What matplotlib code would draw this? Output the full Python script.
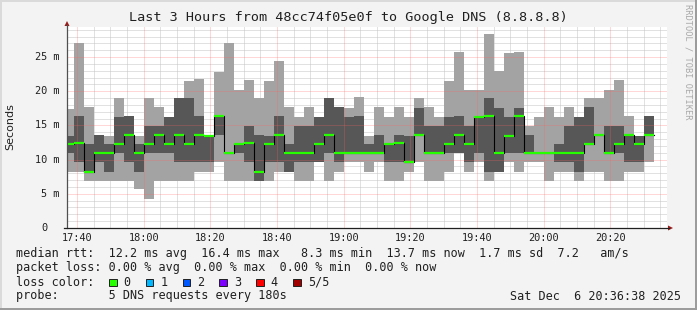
import matplotlib
matplotlib.use("Agg")
import matplotlib.pyplot as plt
import matplotlib.transforms as mtransforms
from matplotlib.patches import Rectangle, Polygon
from matplotlib.lines import Line2D

W, H = 697, 310

# one round of 5 DNS pings every 3 minutes, sorted pings in ms
ping_min = [8.2, 8.2, 6.9, 6.9, 6.9, 6.9, 6.9, 5.7, 4.2, 6.9,
            6.9, 6.9, 6.9, 8.2, 8.2, 9.6, 6.9, 6.9, 6.9, 6.9,
            6.9, 8.2, 8.2, 6.9, 6.9, 9.6, 6.9, 8.2, 9.6, 9.6,
            8.2, 9.6, 6.9, 6.9, 8.2, 9.6, 6.9, 6.9, 8.2, 11.0,
            8.2, 9.6, 6.9, 8.2, 9.6, 8.2, 9.6, 9.6, 6.9, 8.2,
            8.2, 6.9, 8.2, 8.2, 6.9, 6.9, 8.2, 8.2, 9.6]
ping_2 = [11.0, 9.6, 8.2, 9.6, 8.2, 11.0, 9.6, 8.2, 11.0, 11.0,
          11.0, 9.6, 9.6, 9.6, 9.6, 13.6, 11.0, 11.0, 9.6, 6.9,
          9.6, 9.6, 8.2, 9.6, 9.6, 9.6, 11.0, 9.6, 11.0, 11.0,
          11.0, 11.0, 9.6, 9.6, 9.6, 13.6, 11.0, 11.0, 11.0, 11.0,
          9.6, 11.0, 8.2, 8.2, 11.0, 11.0, 11.0, 11.0, 11.0, 9.6,
          9.6, 8.2, 12.3, 13.6, 11.0, 11.0, 9.6, 9.6, 13.6]
ping_med = [12.3, 12.5, 8.2, 11.0, 11.0, 12.3, 13.6, 11.0, 12.3, 13.6,
            12.3, 13.6, 12.3, 13.6, 13.5, 16.4, 11.0, 12.3, 12.5, 8.2,
            12.3, 13.6, 11.0, 11.0, 11.0, 12.3, 13.6, 11.0, 11.0, 11.0,
            11.0, 11.0, 12.3, 12.5, 9.6, 13.6, 11.0, 11.0, 12.3, 13.6,
            12.3, 16.2, 16.4, 11.0, 13.5, 16.4, 11.0, 11.0, 11.0, 11.0,
            11.0, 11.0, 12.3, 13.6, 11.0, 12.3, 13.6, 12.3, 13.6]
ping_4 = [13.5, 16.4, 12.3, 13.6, 12.3, 16.2, 16.4, 12.3, 14.9, 14.9,
          16.2, 19.0, 19.0, 16.4, 13.5, 16.4, 11.0, 12.3, 14.9, 13.6,
          13.5, 16.4, 12.3, 14.9, 14.9, 16.2, 19.0, 17.7, 16.2, 16.4,
          12.3, 13.6, 12.3, 13.6, 13.5, 17.6, 14.9, 14.9, 16.2, 16.4,
          14.9, 16.4, 19.0, 17.6, 16.2, 17.6, 13.6, 11.0, 11.0, 12.3,
          14.9, 16.2, 17.7, 13.6, 14.9, 14.9, 13.6, 13.5, 16.4]
ping_max = [17.4, 27.0, 17.7, 13.6, 13.5, 19.0, 16.4, 13.5, 19.0, 17.7,
            16.2, 19.0, 21.5, 21.8, 13.5, 22.8, 27.0, 20.2, 21.6, 19.0,
            21.5, 24.4, 17.7, 16.2, 17.7, 16.2, 19.0, 17.7, 17.5, 19.2,
            13.5, 17.7, 16.2, 17.7, 16.2, 19.0, 17.7, 16.2, 21.5, 25.7,
            20.2, 20.2, 28.4, 22.9, 25.6, 25.7, 14.9, 16.2, 17.7, 16.2,
            17.7, 16.2, 19.0, 19.0, 20.2, 21.6, 16.4, 13.5, 16.4]

first_round = 17 * 60 + 36.1      # minutes of day, first (clipped) round
round_len = 3.0
t_start, t_end = 17 * 60 + 37, 20 * 60 + 37
y_top = 29.39

x_ticks = [1060, 1080, 1100, 1120, 1140, 1160, 1180, 1200, 1220]
x_labels = ["17:40", "18:00", "18:20", "18:40", "19:00", "19:20", "19:40", "20:00", "20:20"]
y_ticks = [0, 5, 10, 15, 20, 25]
y_labels = ["0", "5 m", "10 m", "15 m", "20 m", "25 m"]

title = "Last 3 Hours from 48cc74f05e0f to Google DNS (8.8.8.8)"
legend_rows = [
    "median rtt:  12.2 ms avg  16.4 ms max   8.3 ms min  13.7 ms now  1.7 ms sd  7.2   am/s",
    "packet loss: 0.00 % avg  0.00 % max  0.00 % min  0.00 % now",
    "loss color:",
    "probe:       5 DNS requests every 180s",
]
loss_labels = ["0", "1", "2", "3", "4", "5/5"]
loss_colors = ["#26ff00", "#00b8ff", "#0059ff", "#7e00ff", "#ff0000", "#a00000"]
stamp = "Sat Dec  6 20:36:38 2025"

MONO = "DejaVu Sans Mono"
LIGHT, DARK = "#a3a3a3", "#575757"
DOTS = (0, (1, 1))

fig = plt.figure(figsize=(W / 100, H / 100), dpi=100)
fig.patch.set_facecolor("#f3f3f3")
pix = mtransforms.Affine2D().scale(1.0 / W, -1.0 / H).translate(0, 1) + fig.transFigure

# frame
fig.add_artist(Rectangle((0, 0), W, 2, transform=pix, color="#dadada", lw=0))
fig.add_artist(Rectangle((0, 0), 2, H, transform=pix, color="#dadada", lw=0))
fig.add_artist(Rectangle((0, H - 2), W, 2, transform=pix, color="#9c9c9c", lw=0))
fig.add_artist(Rectangle((W - 2, 0), 2, H, transform=pix, color="#9c9c9c", lw=0))

ax = fig.add_axes([67 / W, 1 - 228 / H, 600 / W, 201 / H])
ax.set_facecolor("white")
for s in ax.spines.values():
    s.set_visible(False)

lefts = [first_round + round_len * i for i in range(len(ping_med))]
rights = [x + round_len for x in lefts]

ax.bar(lefts, [b - a for a, b in zip(ping_min, ping_max)], bottom=ping_min,
       width=round_len, align="edge", color=LIGHT, lw=0, zorder=1)
ax.bar(lefts, [b - a for a, b in zip(ping_2, ping_4)], bottom=ping_2,
       width=round_len, align="edge", color=DARK, lw=0, zorder=1.1)

# minor grid under the smoke, major grid over it
ax.set_xticks(x_ticks)
ax.set_xticks(range(1060, t_end, 5), minor=True)
ax.set_yticks(y_ticks)
ax.set_yticks(range(0, 30), minor=True)
ax.tick_params(which="both", length=0, labelleft=False, labelbottom=False)
ax.set_axisbelow(True)
ax.grid(which="minor", color="#c4c4c4", lw=0.72, ls=DOTS)
for t in x_ticks:
    ax.axvline(t, color="#ff6060", lw=0.72, ls=DOTS, alpha=0.5, zorder=2)
for v in y_ticks[1:]:
    ax.axhline(v, color="#ff6060", lw=0.72, ls=DOTS, alpha=0.5, zorder=2)

ax.step(lefts + [rights[-1]], ping_med + [ping_med[-1]], where="post",
        color="black", lw=0.8, zorder=3)
ax.hlines(ping_med, lefts, rights, color="#26ff00", lw=1.6, zorder=4)

ax.set_xlim(t_start, t_end)
ax.set_ylim(0, y_top)

# axes lines and arrows
fig.add_artist(Line2D([67, 67], [228, 25], transform=pix, color="#505050", lw=0.9))
fig.add_artist(Line2D([64, 669], [228, 228], transform=pix, color="#202020", lw=0.9))
fig.add_artist(Polygon([[64.5, 26], [69.5, 26], [67, 21]], closed=True, transform=pix,
                       color="#9b1c1c", lw=0))
fig.add_artist(Polygon([[668, 225.5], [668, 230.5], [673, 228]], closed=True, transform=pix,
                       color="#9b1c1c", lw=0))

# tick labels
tick_fs = 7.4
cw = tick_fs * 100 / 72 * 0.602
for t, lab in zip(x_ticks, x_labels):
    xp = 67 + (t - t_start) * 600 / (t_end - t_start)
    fig.text(xp, 238, lab, transform=pix, ha="center", va="center",
             fontsize=tick_fs, family=MONO, color="#202020")
for v, lab in zip(y_ticks, y_labels):
    yp = 228 - v * 201 / y_top
    if lab == "0":
        fig.text(59.5 - 3 * cw, yp, lab, transform=pix, ha="left", va="center",
                 fontsize=tick_fs, family=MONO, color="#202020")
    else:
        fig.text(59.5, yp, lab, transform=pix, ha="right", va="center",
                 fontsize=tick_fs, family=MONO, color="#202020")

fig.text(348, 18, title, transform=pix, ha="center", va="center",
         fontsize=9.7, family=MONO, color="#202020")
fig.text(10, 127, "Seconds", transform=pix, ha="center", va="center",
         rotation=90, fontsize=8, family="DejaVu Sans", color="#202020")
fig.text(688, 4, "RRDTOOL / TOBI OETIKER", transform=pix, ha="center", va="top",
         rotation=270, fontsize=6.2, family=MONO, color="#a8a8a8")

# legend
leg_fs = 8.5
for row, yp in zip(legend_rows, [254, 268, 282, 296]):
    fig.text(16, yp, row, transform=pix, ha="left", va="center",
             fontsize=leg_fs, family=MONO, color="#202020")
sq_x = [109, 145.7, 182.7, 219.3, 256, 293.3]
for xs, lab, col in zip(sq_x, loss_labels, loss_colors):
    fig.add_artist(Rectangle((xs, 278.5), 7.5, 7.5, transform=pix, facecolor=col,
                             edgecolor="#202020", lw=0.7))
    fig.text(xs + 14.5, 282, lab, transform=pix, ha="left", va="center",
             fontsize=leg_fs, family=MONO, color="#202020")
fig.text(681, 296, stamp, transform=pix, ha="right", va="center",
         fontsize=leg_fs, family=MONO, color="#202020")

fig.savefig("out.png", dpi=100, facecolor=fig.get_facecolor())
